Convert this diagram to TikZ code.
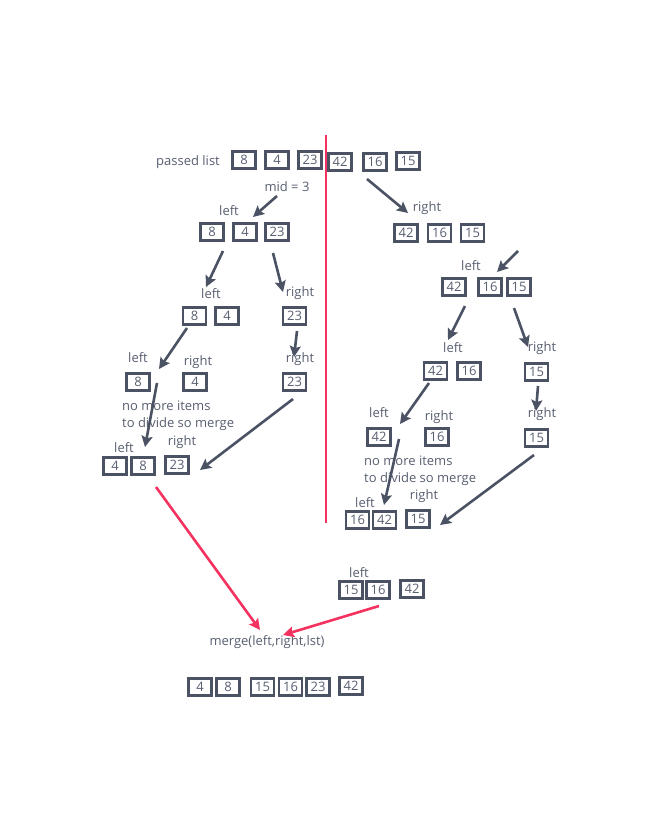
\documentclass[tikz,border=0pt]{standalone}
\usepackage{fontspec}
\setmainfont{Open Sans}
\usetikzlibrary{arrows.meta}
\definecolor{slate}{RGB}{75,82,100}
\definecolor{txt}{RGB}{88,95,112}
\definecolor{pinkred}{RGB}{244,50,95}

\begin{document}
\begin{tikzpicture}[x=1pt,y=-1pt,>={Stealth[length=11pt,width=11pt,inset=2pt]},
    box/.style={draw=slate,line width=2.6pt,minimum width=23pt,minimum height=17pt,inner sep=0pt,text=txt,font=\fontsize{13}{14}\selectfont},
    lbl/.style={text=txt,inner sep=0pt,font=\fontsize{13}{17}\selectfont},
    arr/.style={->,draw=slate,line width=2.6pt},
    red arr/.style={->,draw=pinkred,line width=2.6pt}]

                \fill[white] (0,0) rectangle (660,825);
                \useasboundingbox (0,0) rectangle (660,825);

                % passed list
                \node[lbl] (pl) at (188,162) {passed list};
                \node[box] (a1) at (244,160) {8};
                \node[box] (a2) at (277,160) {4};
                \node[box] (a3) at (310,160) {23};
                \node[box] (a4) at (340,162) {42};
                \node[box] (a5) at (375,162) {16};
                \node[box] (a6) at (408,161) {15};

                \draw[pinkred,line width=2.6pt] (326,135) coordinate (r1) -- (326,523) coordinate (r2);

                % left half
                \node[lbl] (mid) at (287,187) {mid = 3};
                \node[lbl] (l1) at (229,211) {left};
                \node[box] (b1) at (212,232) {8};
                \node[box] (b2) at (245,232) {4};
                \node[box] (b3) at (277,232) {23};

                \node[lbl] (l2) at (211,294) {left};
                \node[lbl] (r3) at (300,293) {right};
                \node[box] (c1) at (194.5,316) {8};
                \node[box] (c2) at (227,316) {4};
                \node[box] (c3) at (294.5,316) {23};

                \node[lbl] (l3) at (138,358) {left};
                \node[lbl] (r4) at (198,362) {right};
                \node[lbl] (r5) at (300,359) {right};
                \node[box] (d1) at (138,382) {8};
                \node[box] (d2) at (195,382) {4};
                \node[box] (d3) at (294.5,382) {23};

                \node[lbl,anchor=west,align=left] (nm1) at (122,416) {no more items\\to divide so merge};
                \node[lbl] (r6) at (182,442) {right};
                \node[lbl] (l4) at (124,448) {left};
                \node[box] (e1) at (115,466) {4};
                \node[box] (e2) at (143,466) {8};
                \node[box] (e3) at (177,465) {23};

                % right half
                \node[lbl] (r7) at (427,208) {right};
                \node[box] (f1) at (406,233) {42};
                \node[box] (f2) at (439.5,233) {16};
                \node[box] (f3) at (472.5,233) {15};

                \node[lbl] (l5) at (471,266) {left};
                \node[box] (g1) at (454,287) {42};
                \node[box] (g2) at (490,287) {16};
                \node[box] (g3) at (519,287) {15};

                \node[lbl] (l6) at (453,348) {left};
                \node[lbl] (r8) at (542,348) {right};
                \node[box] (h1) at (435.5,371) {42};
                \node[box] (h2) at (469,371) {16};
                \node[box] (h3) at (536.5,372) {15};

                \node[lbl] (l7) at (379,413) {left};
                \node[lbl] (r9) at (439,417) {right};
                \node[lbl] (r10) at (542,414) {right};
                \node[box] (i1) at (379,437) {42};
                \node[box] (i2) at (437,437) {16};
                \node[box] (i3) at (536.5,438) {15};

                \node[lbl,anchor=west,align=left] (nm2) at (364,471) {no more items\\to divide so merge};
                \node[lbl] (r11) at (424,496) {right};
                \node[lbl] (l8) at (365,503) {left};
                \node[box] (j1) at (357.5,520) {16};
                \node[box] (j2) at (384.5,520) {42};
                \node[box] (j3) at (418,519) {15};

                % merge
                \node[lbl] (l9) at (359,573) {left};
                \node[box] (k1) at (351,590) {15};
                \node[box] (k2) at (378,590) {16};
                \node[box] (k3) at (412,589) {42};
                \node[lbl] (mg) at (267,642) {merge(left,right,lst)};
                \node[box] (m1) at (200,687) {4};
                \node[box] (m2) at (228,687) {8};
                \node[box] (m3) at (262.5,687) {15};
                \node[box] (m4) at (290.5,687) {16};
                \node[box] (m5) at (318,687) {23};
                \node[box] (m6) at (351,686) {42};

                % arrow ends
                \coordinate (s1) at (277,196);   \coordinate (t1) at (253,217);
                \coordinate (s2) at (367,179);   \coordinate (t2) at (408,213);
                \coordinate (s3) at (223,251);   \coordinate (t3) at (206,287);
                \coordinate (s4) at (273,253);   \coordinate (t4) at (283,292);
                \coordinate (s5) at (187,328);   \coordinate (t5) at (159,369);
                \coordinate (s6) at (297,331);   \coordinate (t6) at (294,357);
                \coordinate (s7) at (157,383);   \coordinate (t7) at (145,447);
                \coordinate (s8) at (293,399);   \coordinate (t8) at (200,470);
                \coordinate (s9) at (518,251);   \coordinate (t9) at (497,272);
                \coordinate (s10) at (465,306);  \coordinate (t10) at (448,340);
                \coordinate (s11) at (514,308);  \coordinate (t11) at (528,347);
                \coordinate (s12) at (429,383);  \coordinate (t12) at (400,424);
                \coordinate (s13) at (538,386);  \coordinate (t13) at (536,411);
                \coordinate (s14) at (399,439);  \coordinate (t14) at (384,505);
                \coordinate (s15) at (534,455);  \coordinate (t15) at (440,525);
                \coordinate (s16) at (156,487);  \coordinate (t16) at (260,630);
                \coordinate (s17) at (379,606);  \coordinate (t17) at (283,635);

                \foreach \n in {1,...,15}
                    \draw[arr] (s\n) -- (t\n);
                \draw[red arr] (s16) -- (t16);
                \draw[red arr] (s17) -- (t17);

            \end{tikzpicture}
\end{document}
